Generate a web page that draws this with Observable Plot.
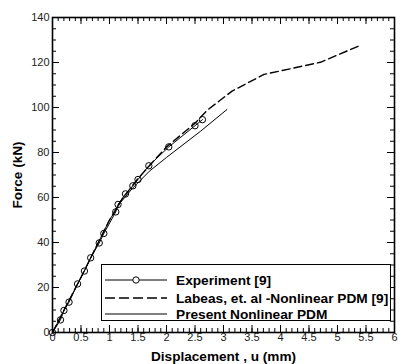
<!DOCTYPE html>
<html><head><meta charset="utf-8">
<script src="https://cdn.jsdelivr.net/npm/d3@7"></script>
<script src="https://cdn.jsdelivr.net/npm/@observablehq/plot@0.6"></script>
<style>
body{margin:0;background:#fff;font-family:"Liberation Sans",Arial,sans-serif;}
#wrap{position:relative;width:400px;height:364px;}
#legend{position:absolute;left:101px;top:264px;width:288px;height:55px;border:1px solid #000;background:#fff;font:bold 13.7px "Liberation Sans",Arial,sans-serif;color:#000;}
.row{position:absolute;left:0;height:16px;display:flex;align-items:center;white-space:nowrap;}
.row svg{margin-left:3px;}
.row span{margin-left:9px;}
</style></head>
<body><div id="wrap"></div>
<script>
const expX = [0, 0.14, 0.2, 0.29, 0.44, 0.56, 0.67, 0.82, 0.9, 1.11, 1.15, 1.28, 1.41, 1.5, 1.69, 2.04, 2.5, 2.63];
const expY = [0, 5.6, 9.8, 13.5, 21.6, 27.3, 33.2, 39.8, 44, 53.6, 56.9, 61.6, 65.2, 68, 74.1, 82.5, 91.9, 94.6];
const labX = [0, 0.5, 1, 1.2, 1.5, 2, 2.5, 2.71, 3.15, 3.71, 4.7, 5.37];
const labY = [0, 24.5, 50, 58.5, 68.5, 82.5, 93, 98.7, 107.3, 114.7, 120.1, 127.3];
const presX = [0, 0.5, 1, 1.2, 1.4, 1.7, 2, 2.6, 3.06];
const presY = [0, 24.5, 50, 58, 64, 71.7, 77.8, 89.5, 99.1];
const xMajor = [0, 0.5, 1, 1.5, 2, 2.5, 3, 3.5, 4, 4.5, 5, 5.5, 6];
const xMinor = d3.range(0, 61).map(i => i / 10);
const yMajor = [0, 20, 40, 60, 80, 100, 120, 140];
const yMinor = d3.range(0, 29).map(i => i * 5);
const seriesNames = ["Experiment [9]", "Labeas, et. al -Nonlinear PDM [9]", "Present Nonlinear PDM"];

const W = 400, H = 364, ml = 52, mr = 6, mt = 17, mb = 32;
const fw = W - ml - mr, fh = H - mt - mb;
const big = 7, small = 4;

const exp = expX.map((x, i) => ({x, y: expY[i]}));
const lab = labX.map((x, i) => ({x, y: labY[i]}));
const pres = presX.map((x, i) => ({x, y: presY[i]}));

const chart = Plot.plot({
  width: W, height: H,
  marginLeft: ml, marginRight: mr, marginTop: mt, marginBottom: mb,
  style: {fontFamily: "'Liberation Sans', Arial, sans-serif", fontSize: "11px", color: "#222", background: "#fff"},
  x: {domain: [0, 6]},
  y: {domain: [0, 140]},
  marks: [
    Plot.tickX(xMinor, {x: d => d, insetTop: fh - small, stroke: "#000"}),
    Plot.tickX(xMajor, {x: d => d, insetTop: fh - big, stroke: "#000"}),
    Plot.tickX(xMinor, {x: d => d, insetBottom: fh - small, stroke: "#000"}),
    Plot.tickX(xMajor, {x: d => d, insetBottom: fh - big, stroke: "#000"}),
    Plot.tickY(yMinor, {y: d => d, insetRight: fw - small, stroke: "#000"}),
    Plot.tickY(yMajor, {y: d => d, insetRight: fw - big, stroke: "#000"}),
    Plot.tickY(yMinor, {y: d => d, insetLeft: fw - small, stroke: "#000"}),
    Plot.tickY(yMajor, {y: d => d, insetLeft: fw - big, stroke: "#000"}),
    Plot.axisX({ticks: xMajor, tickSize: 0, tickPadding: 1, tickFormat: d => String(d), label: "Displacement , u (mm)", labelAnchor: "center", labelArrow: "none", labelOffset: 28, fontSize: 11}),
    Plot.axisY({ticks: yMajor, tickSize: 0, tickPadding: 3, tickFormat: d => String(d), label: "Force (kN)", labelAnchor: "center", labelOffset: 40, labelArrow: "none", fontSize: 11}),
    Plot.line(pres, {x: "x", y: "y", stroke: "#000", strokeWidth: 1}),
    Plot.line(lab, {x: "x", y: "y", stroke: "#000", strokeWidth: 1.4, strokeDasharray: "8,4"}),
    Plot.line(exp, {x: "x", y: "y", stroke: "#000", strokeWidth: 1}),
    Plot.dot(exp, {x: "x", y: "y", r: 3.2, stroke: "#000", fill: "none", strokeWidth: 1}),
    Plot.frame({stroke: "#000", strokeWidth: 1.6})
  ]
});
const wrap = document.getElementById("wrap");
wrap.appendChild(chart);
d3.select(chart).selectAll("[aria-label='x-axis label'] text, [aria-label='y-axis label'] text")
  .style("font-weight", "bold").style("font-size", "13.6px").attr("fill", "#000");

const legend = document.createElement("div");
legend.id = "legend";
const styles = [
  {dash: null, marker: true, w: 1},
  {dash: "10,4", marker: false, w: 1.4},
  {dash: null, marker: false, w: 1}
];
const tops = [7, 25, 41];
seriesNames.forEach((name, i) => {
  const row = document.createElement("div");
  row.className = "row";
  row.style.top = tops[i] + "px";
  const s = styles[i];
  row.innerHTML = `<svg width="62" height="16"><line x1="0" x2="62" y1="8" y2="8" stroke="#000" stroke-width="${s.w}" ${s.dash ? `stroke-dasharray="${s.dash}"` : ""}/>${s.marker ? '<circle cx="31" cy="8" r="3.2" fill="#fff" stroke="#000"/>' : ""}</svg><span>${name}</span>`;
  legend.appendChild(row);
});
wrap.appendChild(legend);
</script></body></html>
